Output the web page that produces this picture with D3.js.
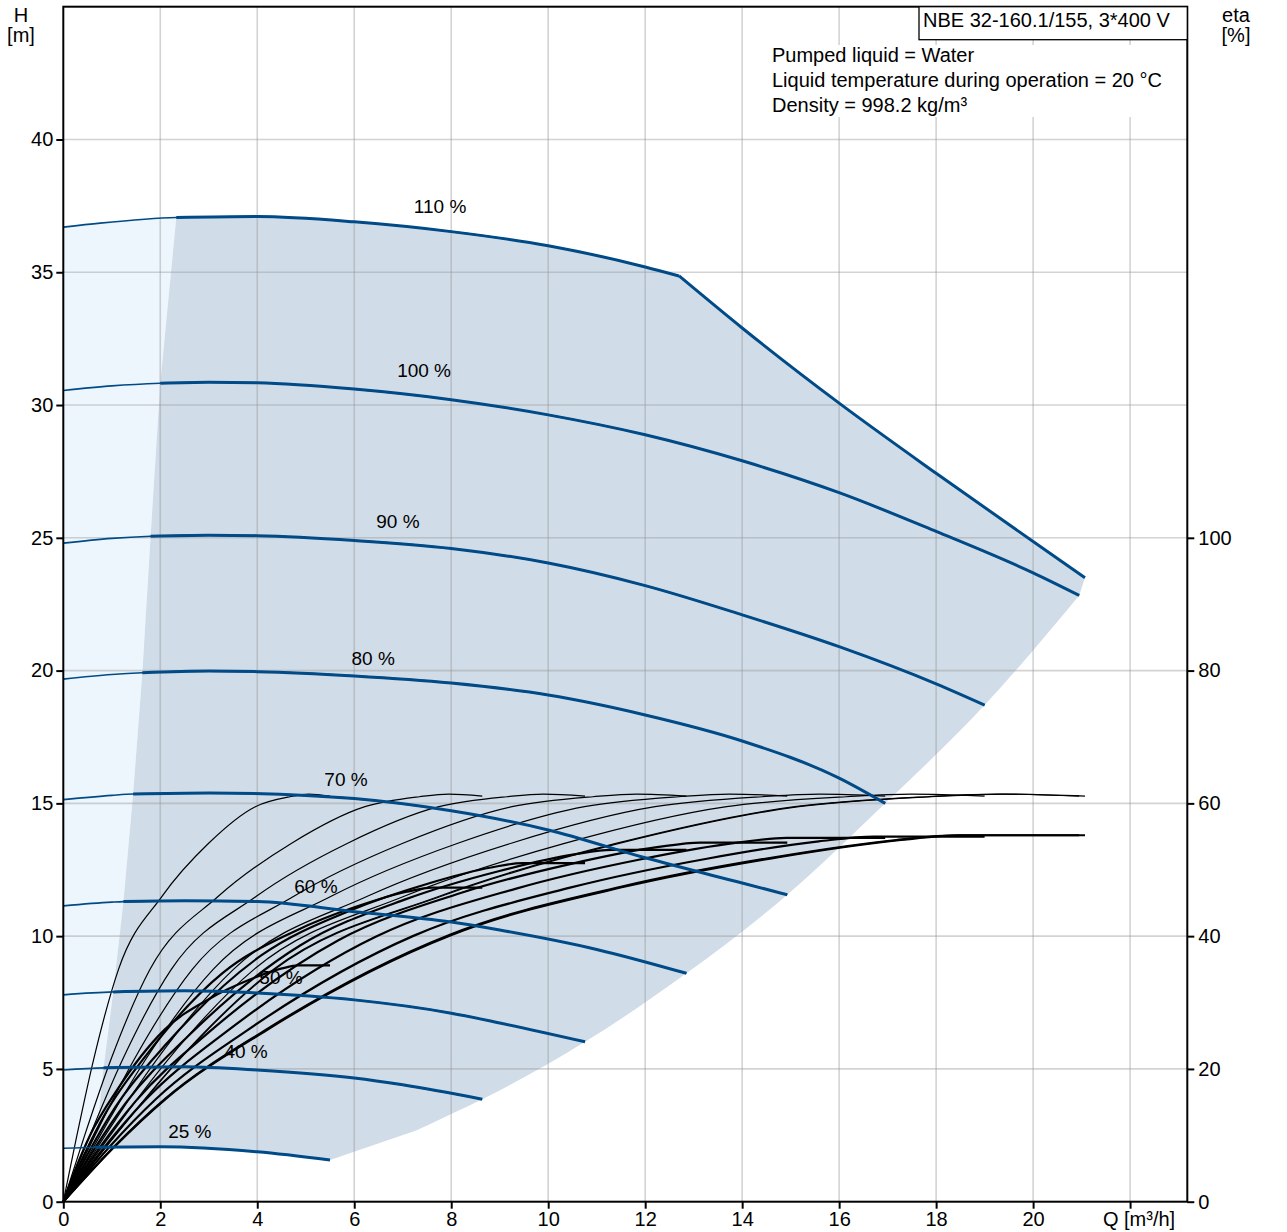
<!DOCTYPE html>
<html>
<head>
<meta charset="utf-8">
<script src="https://cdn.jsdelivr.net/npm/d3@7"></script>
<style>
	body { margin: 0; background: #ffffff; }
	svg text { font-family: "Liberation Sans", Arial, sans-serif; fill: #000; }
</style>
</head>
<body>
<div id="pump_chart"></div>
<script>
//------------------------------------------------------------------------------
// Data
//------------------------------------------------------------------------------

var QTicks = [0, 2, 4, 6, 8, 10, 12, 14, 16, 18, 20, 22];
var HTicks = [0, 5, 10, 15, 20, 25, 30, 35, 40];
var etaTicks = [0, 20, 40, 60, 80, 100];

var speedLabels = ["110 %", "100 %", "90 %", "80 %", "70 %", "60 %", "50 %", "40 %", "25 %"];

// QH curves per speed, [Q m3/h, H m]
var speed110 = [[0, 36.7], [0.76, 36.85], [2.33, 37.06], [4, 37.1], [6, 36.9], [8, 36.53], [10, 36.0], [12, 35.2], [12.7, 34.86]];
var speed100 = [[0, 30.55], [1, 30.72], [2.0, 30.82], [3, 30.86], [4, 30.84], [6, 30.6], [8, 30.2], [10, 29.63], [12, 28.88], [14, 27.9], [16, 26.7], [18, 25.24], [20, 23.68], [20.95, 22.83]];
var speed90 = [[0, 24.8], [1, 24.98], [1.8, 25.06], [3, 25.1], [4, 25.08], [6, 24.9], [8, 24.6], [10, 24.05], [12, 23.2], [14, 22.1], [16, 20.9], [18, 19.5], [19.0, 18.7]];
var speed80 = [[0, 19.68], [1, 19.85], [1.63, 19.92], [3, 19.98], [4, 19.96], [6, 19.8], [8, 19.53], [10, 19.08], [12, 18.33], [14, 17.35], [16, 15.95], [16.95, 15.0]];
var speed70 = [[0, 15.14], [1, 15.3], [1.44, 15.35], [3, 15.39], [5, 15.3], [6, 15.18], [8, 14.72], [10, 14.0], [12, 12.95], [14, 12.0], [14.93, 11.56]];
var speed60 = [[0, 11.14], [1, 11.28], [1.24, 11.3], [2.5, 11.33], [4, 11.3], [6, 10.92], [8, 10.53], [9, 10.23], [11, 9.5], [12.85, 8.6]];
var speed50 = [[0, 7.79], [1.03, 7.9], [2.5, 7.94], [4, 7.86], [6, 7.6], [8, 7.1], [9, 6.73], [10.76, 6.02]];
var speed40 = [[0, 4.96], [0.83, 5.04], [2.5, 5.08], [4, 4.96], [6, 4.66], [7, 4.4], [8.64, 3.86]];
var speed25 = [[0, 2.01], [0.66, 2.05], [2, 2.07], [4, 1.88], [5.5, 1.57]];

// power limited part of the top curve
var powerLimit = [[12.7, 34.86], [14, 32.9], [16, 30.07], [18, 27.43], [20, 24.86], [21.07, 23.5]];

// Q where each speed curve enters the operating area (min flow)
var minFlowQ = [2.33, 2.0, 1.8, 1.63, 1.44, 1.24, 1.03, 0.83, 0.66];

// lower right edge of the operating area, top to bottom
var maxFlowEdge = [[21.07, 23.5], [20.95, 22.83], [19.0, 18.7], [16.95, 15.0], [14.93, 11.56], [12.85, 8.6], [10.76, 6.02], [8.64, 3.86], [8.0, 3.3], [7.29, 2.69], [5.5, 1.57]];

// label anchors [Q, H]
var labelQ = [7.77, 7.44, 6.9, 6.39, 5.83, 5.21, 4.49, 3.77, 2.61];
var labelH = [37.5, 31.33, 25.64, 20.48, 15.92, 11.89, 8.46, 5.67, 2.66];

// efficiency: end flow per speed, hydraulic eta shape vs Q/Qend, total eta
var etaQend = [21.07, 20.95, 19.0, 16.95, 14.93, 12.85, 10.76, 8.64, 5.5];
var hydShapeR = [0, 0.05, 0.113, 0.207, 0.37, 0.545, 0.72, 0.85, 0.92, 1.0];
var hydEta = [0, 9.8, 21.3, 35, 46, 54, 59.5, 61.0, 61.4, 61.1];
var totShapeR = [0, 0.05, 0.1, 0.2, 0.38, 0.55, 0.7, 0.82, 0.88, 1.0];
var totShape = [0, 0.15, 0.28, 0.47, 0.728, 0.86, 0.94, 0.987, 1.0, 1.0];
var totEtaEnd = [55.2, 55.2, 55.0, 54.8, 54.1, 53.0, 51.0, 47.3, 35.6];

var speedCurves = [speed110, speed100, speed90, speed80, speed70, speed60, speed50, speed40, speed25];

//------------------------------------------------------------------------------
// Plotting
//------------------------------------------------------------------------------

var BLUE = "#004b87";

function curvePath(parts) {
	// join several [generator, points] runs into one closed path
	var d = "";
	parts.forEach(function(p, i) {
		var s = p[0](p[1]);
		d += (i === 0) ? s : "L" + s.slice(1);
	});
	return d + "Z";
}

function plot_chart(div) {
	var width = 1287, height = 1232;
	var left = 63.3, right = 1187.3, top = 6.7, bottom = 1201.7;

	var svg = d3.select(div).append("svg")
		.attr("width", width)
		.attr("height", height);

	var x = d3.scaleLinear().domain([0, 23.18]).range([left, right]);
	var y = d3.scaleLinear().domain([0, 45]).range([bottom, top]);
	var yEta = d3.scaleLinear().domain([0, 180]).range([bottom, top]);

	var line = d3.line()
		.x(function(d) { return x(d[0]); })
		.y(function(d) { return y(d[1]); })
		.curve(d3.curveMonotoneX);
	var straight = d3.line()
		.x(function(d) { return x(d[0]); })
		.y(function(d) { return y(d[1]); });
	var etaLine = d3.line()
		.x(function(d) { return x(d[0]); })
		.y(function(d) { return yEta(d[1]); })
		.curve(d3.curveMonotoneX);

	// boundary of the operating area
	var minFlowEdge = speedCurves.map(function(c, i) {
		return c.filter(function(p) { return p[0] === minFlowQ[i]; })[0];
	});
	var edgeUp = minFlowEdge.slice().reverse();

	var topLeft = speed110.filter(function(p) { return p[0] <= minFlowQ[0]; });
	var botLeft = speed25.filter(function(p) { return p[0] <= minFlowQ[8]; }).reverse();
	svg.append("path")
		.attr("d", curvePath([[line, topLeft], [straight, minFlowEdge], [line, botLeft]]))
		.attr("fill", "#eef6fd");

	var n = maxFlowEdge.length;
	var topRun = speed110.filter(function(p) { return p[0] >= minFlowQ[0]; });
	var botRun = speed25.filter(function(p) { return p[0] >= minFlowQ[8]; }).reverse();
	svg.append("path")
		.attr("d", curvePath([
			[straight, edgeUp], [line, topRun], [line, powerLimit],
			[straight, maxFlowEdge.slice(0, 2)], [line, maxFlowEdge.slice(1, n - 1)],
			[straight, maxFlowEdge.slice(n - 2)], [line, botRun]]))
		.attr("fill", "#d0dce8");

	// grid
	var grid = svg.append("g").attr("stroke", "rgba(150,150,150,0.42)").attr("stroke-width", 1.6);
	QTicks.slice(1).forEach(function(q) {
		grid.append("line").attr("x1", x(q)).attr("x2", x(q)).attr("y1", top).attr("y2", bottom);
	});
	HTicks.slice(1).forEach(function(h) {
		grid.append("line").attr("x1", left).attr("x2", right).attr("y1", y(h)).attr("y2", y(h));
	});

	// efficiency curves
	var etaG = svg.append("g").attr("fill", "none").attr("stroke", "#000")
		.attr("stroke-linejoin", "round").attr("stroke-linecap", "butt");
	etaQend.forEach(function(qe, i) {
		var hyd = hydShapeR.map(function(r, j) { return [r * qe, hydEta[j]]; });
		etaG.append("path").attr("d", etaLine(hyd)).attr("stroke-width", 1.2);
	});
	etaQend.forEach(function(qe, i) {
		var tot = totShapeR.map(function(r, j) { return [r * qe, totShape[j] * totEtaEnd[i]]; });
		etaG.append("path").attr("d", etaLine(tot)).attr("stroke-width", 2.2);
	});

	// speed curves: thin over the whole range, heavy inside the operating area
	var qhG = svg.append("g").attr("fill", "none").attr("stroke", BLUE)
		.attr("stroke-linejoin", "round");
	speedCurves.forEach(function(c, i) {
		qhG.append("path").attr("d", line(c)).attr("stroke-width", 1.6);
		var inside = c.filter(function(p) { return p[0] >= minFlowQ[i]; });
		qhG.append("path").attr("d", line(inside)).attr("stroke-width", 3);
	});
	qhG.append("path").attr("d", line(powerLimit)).attr("stroke-width", 3);

	// curve labels
	svg.append("g").selectAll("text")
		.data(speedLabels)
		.join("text")
		.attr("x", function(d, i) { return x(labelQ[i]); })
		.attr("y", function(d, i) { return y(labelH[i]); })
		.attr("dy", "0.36em")
		.attr("text-anchor", "middle")
		.style("font-size", "19px")
		.text(function(d) { return d; });

	// frame
	svg.append("rect")
		.attr("x", left).attr("y", top)
		.attr("width", right - left).attr("height", bottom - top)
		.attr("fill", "none").attr("stroke", "#000").attr("stroke-width", 2);

	// axes
	var xAxis = d3.axisBottom(x).tickValues(QTicks).tickSize(7).tickPadding(3)
		.tickFormat(function(d) { return d === 22 ? "" : d; });
	var yAxis = d3.axisLeft(y).tickValues(HTicks).tickSize(7).tickPadding(3);
	var etaAxis = d3.axisRight(yEta).tickValues(etaTicks).tickSize(7).tickPadding(4);

	[[xAxis, "translate(0," + bottom + ")"], [yAxis, "translate(" + left + ",0)"],
	 [etaAxis, "translate(" + right + ",0)"]].forEach(function(a) {
		var g = svg.append("g").attr("transform", a[1]).call(a[0]);
		g.select(".domain").remove();
		g.selectAll("line").attr("stroke", "#000").attr("stroke-width", 2);
		g.selectAll("text").style("font-size", "20px").attr("font-family", null);
	});

	svg.append("text").attr("x", x(22) + 9).attr("y", 1226)
		.attr("text-anchor", "middle").style("font-size", "20px").text("Q [m³/h]");

	// axis titles
	svg.append("text").attr("x", 21).attr("y", 22).attr("text-anchor", "middle").style("font-size", "20px").text("H");
	svg.append("text").attr("x", 21).attr("y", 42).attr("text-anchor", "middle").style("font-size", "20px").text("[m]");
	svg.append("text").attr("x", 1236).attr("y", 22).attr("text-anchor", "middle").style("font-size", "20px").text("eta");
	svg.append("text").attr("x", 1236).attr("y", 42).attr("text-anchor", "middle").style("font-size", "20px").text("[%]");

	// title box and liquid info
	svg.append("rect").attr("x", 919).attr("y", top).attr("width", right - 919).attr("height", 33)
		.attr("fill", "#fff").attr("stroke", "#000").attr("stroke-width", 1.3);
	svg.append("text").attr("x", 923).attr("y", 27).style("font-size", "20px").text("NBE 32-160.1/155, 3*400 V");

	svg.append("rect").attr("x", 766).attr("y", 45).attr("width", 404).attr("height", 72).attr("fill", "#fff");
	var info = ["Pumped liquid = Water", "Liquid temperature during operation = 20 °C", "Density = 998.2 kg/m³"];
	info.forEach(function(t, i) {
		svg.append("text").attr("x", 772).attr("y", 62 + i * 25).style("font-size", "20px").text(t);
	});
}

//------------------------------------------------------------------------------
// Main
//------------------------------------------------------------------------------

function main() {
	plot_chart(document.getElementById("pump_chart"));
}

if (window.addEventListener) {
	window.addEventListener('load', main, false);
} else {
	window.attachEvent('onload', main);
}
</script>
</body>
</html>
